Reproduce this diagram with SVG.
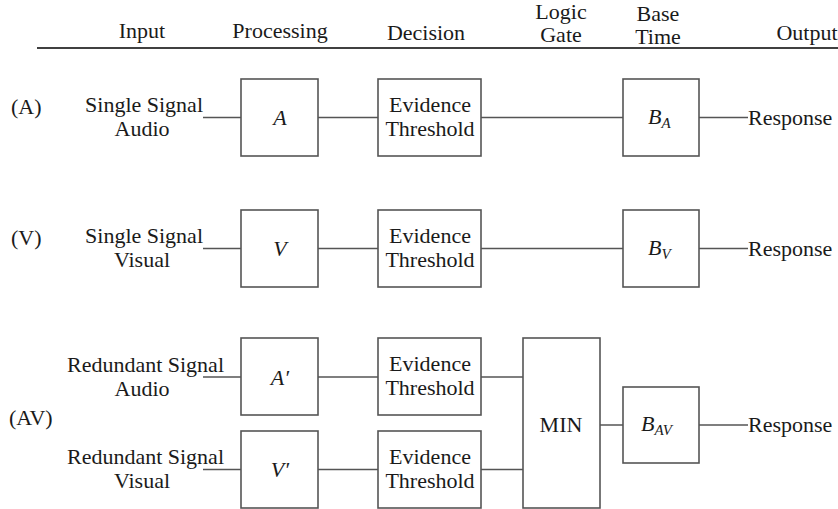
<svg xmlns="http://www.w3.org/2000/svg" width="838" height="509" viewBox="0 0 838 509" font-family="Liberation Serif, DejaVu Serif, serif">
  <style>
    text { font-family: "Liberation Serif", "DejaVu Serif", serif; font-size: 22px; fill: #1a1a1a; }
    .c { text-anchor: middle; }
    .r { text-anchor: end; }
    .m { font-style: italic; }
    .sub { font-size: 15px; font-style: italic; }
    .box { fill: #ffffff; stroke: #555555; stroke-width: 1.6; }
    .wire { fill: none; stroke: #555555; stroke-width: 1.6; }
  </style>
  <rect width="838" height="509" fill="#ffffff"/>

  <!-- column headers -->
  <g id="header">
    <text class="c" x="142" y="38">Input</text>
    <text class="c" x="280" y="38">Processing</text>
    <text class="c" x="426" y="40">Decision</text>
    <text class="c" x="561" y="19">Logic</text>
    <text class="c" x="561" y="42">Gate</text>
    <text class="c" x="658" y="21">Base</text>
    <text class="c" x="658" y="44">Time</text>
    <text class="c" x="807" y="40">Output</text>
    <line x1="37" y1="48" x2="838" y2="48" stroke="#000" stroke-width="1.6"/>
  </g>

  <!-- row labels and inputs -->
  <g id="row-labels">
    <text x="11" y="114">(A)</text>
    <text x="11" y="245">(V)</text>
    <text x="9" y="425">(AV)</text>
  </g>
  <g id="in-a">
    <text class="r" x="203" y="112">Single Signal</text>
    <text class="c" x="142" y="136">Audio</text>
  </g>
  <g id="in-v">
    <text class="r" x="203" y="243">Single Signal</text>
    <text class="c" x="142" y="267">Visual</text>
  </g>
  <g id="in-av-a">
    <text class="r" x="224" y="372">Redundant Signal</text>
    <text class="c" x="142" y="396">Audio</text>
  </g>
  <g id="in-av-v">
    <text class="r" x="224" y="464">Redundant Signal</text>
    <text class="c" x="142" y="488">Visual</text>
  </g>

  <!-- connectors -->
  <g id="connectors">
    <path class="wire" d="M203 117.5H241 M318 117.5H378 M481 117.5H623 M699 117.5H748"/>
    <path class="wire" d="M203 248.5H241 M318 248.5H378 M481 248.5H623 M699 248.5H748"/>
    <path class="wire" d="M203 377H241 M318 377H378 M481 377H523"/>
    <path class="wire" d="M203 469.5H241 M318 469.5H378 M481 469.5H523"/>
    <path class="wire" d="M600 425H623 M699 425H748"/>
  </g>

  <!-- row A -->
  <g id="proc-a">
    <rect class="box" x="241" y="79" width="77" height="77"/>
    <text class="c m" x="280" y="125">A</text>
  </g>
  <g id="dec-a">
    <rect class="box" x="378" y="79" width="103" height="77"/>
    <text class="c" x="430" y="112">Evidence</text>
    <text class="c" x="430" y="136">Threshold</text>
  </g>
  <g id="base-a">
    <rect class="box" x="623" y="79" width="76" height="77"/>
    <text class="m" x="648" y="124">B<tspan class="sub" dy="4">A</tspan></text>
  </g>
  <g id="out-a"><text x="748" y="125">Response</text></g>

  <!-- row V -->
  <g id="proc-v">
    <rect class="box" x="241" y="210" width="77" height="77"/>
    <text class="c m" x="280" y="256">V</text>
  </g>
  <g id="dec-v">
    <rect class="box" x="378" y="210" width="103" height="77"/>
    <text class="c" x="430" y="243">Evidence</text>
    <text class="c" x="430" y="267">Threshold</text>
  </g>
  <g id="base-v">
    <rect class="box" x="623" y="210" width="76" height="77"/>
    <text class="m" x="648" y="255">B<tspan class="sub" dy="4">V</tspan></text>
  </g>
  <g id="out-v"><text x="748" y="256">Response</text></g>

  <!-- row AV -->
  <g id="proc-av-a">
    <rect class="box" x="241" y="338" width="77" height="77"/>
    <text class="c m" x="280" y="385">A′</text>
  </g>
  <g id="proc-av-v">
    <rect class="box" x="241" y="431" width="77" height="77"/>
    <text class="c m" x="280" y="477">V′</text>
  </g>
  <g id="dec-av-a">
    <rect class="box" x="378" y="338" width="103" height="77"/>
    <text class="c" x="430" y="371">Evidence</text>
    <text class="c" x="430" y="395">Threshold</text>
  </g>
  <g id="dec-av-v">
    <rect class="box" x="378" y="431" width="103" height="77"/>
    <text class="c" x="430" y="464">Evidence</text>
    <text class="c" x="430" y="488">Threshold</text>
  </g>
  <g id="gate-min">
    <rect class="box" x="523" y="338" width="77" height="170"/>
    <text class="c" x="561" y="432">MIN</text>
  </g>
  <g id="base-av">
    <rect class="box" x="623" y="387" width="76" height="76"/>
    <text class="m" x="641" y="431">B<tspan class="sub" dy="4">AV</tspan></text>
  </g>
  <g id="out-av"><text x="748" y="432">Response</text></g>
</svg>
